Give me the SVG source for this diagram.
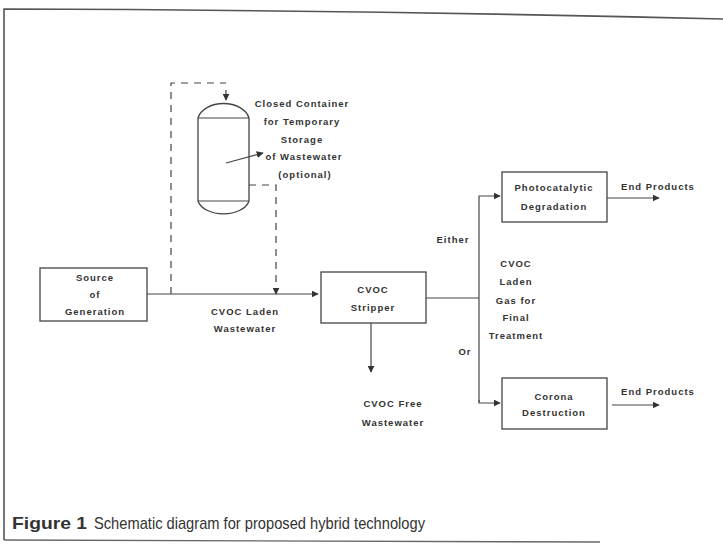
<svg xmlns="http://www.w3.org/2000/svg" width="723" height="546" viewBox="0 0 723 546">
<defs>
<marker id="ah" viewBox="0 0 10 10" refX="9" refY="5" markerWidth="7" markerHeight="7" markerUnits="userSpaceOnUse" orient="auto">
<path d="M0,0 L10,5 L0,10 z" fill="#333"/>
</marker>
</defs>
<style>
.box{fill:#fff;stroke:#444;stroke-width:1.3}
.ln{fill:none;stroke:#444;stroke-width:1.2}
.dash{fill:none;stroke:#444;stroke-width:1.2;stroke-dasharray:7,6}
.t{font-family:"Liberation Sans",Arial,sans-serif;font-size:9.5px;font-weight:bold;letter-spacing:1px;fill:#333;text-anchor:middle}
.cap{font-family:"Liberation Sans",Arial,sans-serif;font-size:17px;fill:#333}
</style>
<rect width="723" height="546" fill="#fff"/>
<path d="M4,540 L4,9 Q360,10 723,19" fill="none" stroke="#555" stroke-width="1.6"/>
<path d="M4,540 L600,542" fill="none" stroke="#666" stroke-width="1.4"/>

<g id="tank">
<path class="box" d="M198,118 A26,18 0 0 1 249,118 L249,201 A26,16 0 0 1 198,201 Z"/>
<line class="ln" x1="198" y1="118" x2="249" y2="118"/>
<line class="ln" x1="198" y1="201" x2="249" y2="201"/>
<text class="t" x="302" y="107">Closed Container</text>
<text class="t" x="302" y="125">for Temporary</text>
<text class="t" x="302" y="143">Storage</text>
<text class="t" x="304" y="160">of Wastewater</text>
<text class="t" x="305" y="178">(optional)</text>
</g>

<g id="source">
<rect class="box" x="40" y="268" width="107" height="53"/>
<text class="t" x="95" y="281">Source</text>
<text class="t" x="95" y="298">of</text>
<text class="t" x="95" y="315">Generation</text>
</g>

<g id="stripper">
<rect class="box" x="321" y="272" width="105" height="51"/>
<text class="t" x="373" y="293">CVOC</text>
<text class="t" x="373" y="311">Stripper</text>
</g>

<g id="photo">
<rect class="box" x="502" y="172" width="105" height="50"/>
<text class="t" x="554" y="191">Photocatalytic</text>
<text class="t" x="554" y="210">Degradation</text>
</g>

<g id="corona">
<rect class="box" x="502" y="378" width="105" height="51"/>
<text class="t" x="554" y="400">Corona</text>
<text class="t" x="554" y="416">Destruction</text>
</g>

<g id="connectors">
<path class="ln" d="M147,294 L318,294" marker-end="url(#ah)"/>
<path class="dash" d="M171,294 L171,83 L226,83"/>
<path class="ln" d="M226,90 L226,100" marker-end="url(#ah)"/>
<path class="dash" d="M249,185 L276,185 L276,288"/>
<path class="ln" d="M276,288 L276,294" marker-end="url(#ah)"/>
<path class="ln" d="M426,298 L479,298"/>
<path class="ln" d="M479,402 L479,196 L500,196" marker-end="url(#ah)"/>
<path class="ln" d="M479,400 L479,403 L500,403" marker-end="url(#ah)"/>
<path class="ln" d="M607,198 L659,198" marker-end="url(#ah)"/>
<path class="ln" d="M612,405 L659,405" marker-end="url(#ah)"/>
<path class="ln" d="M371,323 L371,372" marker-end="url(#ah)"/>
<path class="ln" d="M226,163 L263,153" marker-end="url(#ah)"/>
</g>

<g id="labels">
<text class="t" x="245" y="315">CVOC Laden</text>
<text class="t" x="245" y="332">Wastewater</text>
<text class="t" x="393" y="407">CVOC Free</text>
<text class="t" x="393" y="426">Wastewater</text>
<text class="t" x="453" y="243">Either</text>
<text class="t" x="516" y="267">CVOC</text>
<text class="t" x="516" y="285">Laden</text>
<text class="t" x="516" y="304">Gas for</text>
<text class="t" x="516" y="321">Final</text>
<text class="t" x="516" y="339">Treatment</text>
<text class="t" x="465" y="355">Or</text>
<text class="t" x="658" y="190">End Products</text>
<text class="t" x="658" y="395">End Products</text>
</g>

<text class="cap" x="12" y="529" font-weight="bold" textLength="75" lengthAdjust="spacingAndGlyphs">Figure 1</text>
<text class="cap" x="94" y="529" textLength="331" lengthAdjust="spacingAndGlyphs">Schematic diagram for proposed hybrid technology</text>
</svg>
